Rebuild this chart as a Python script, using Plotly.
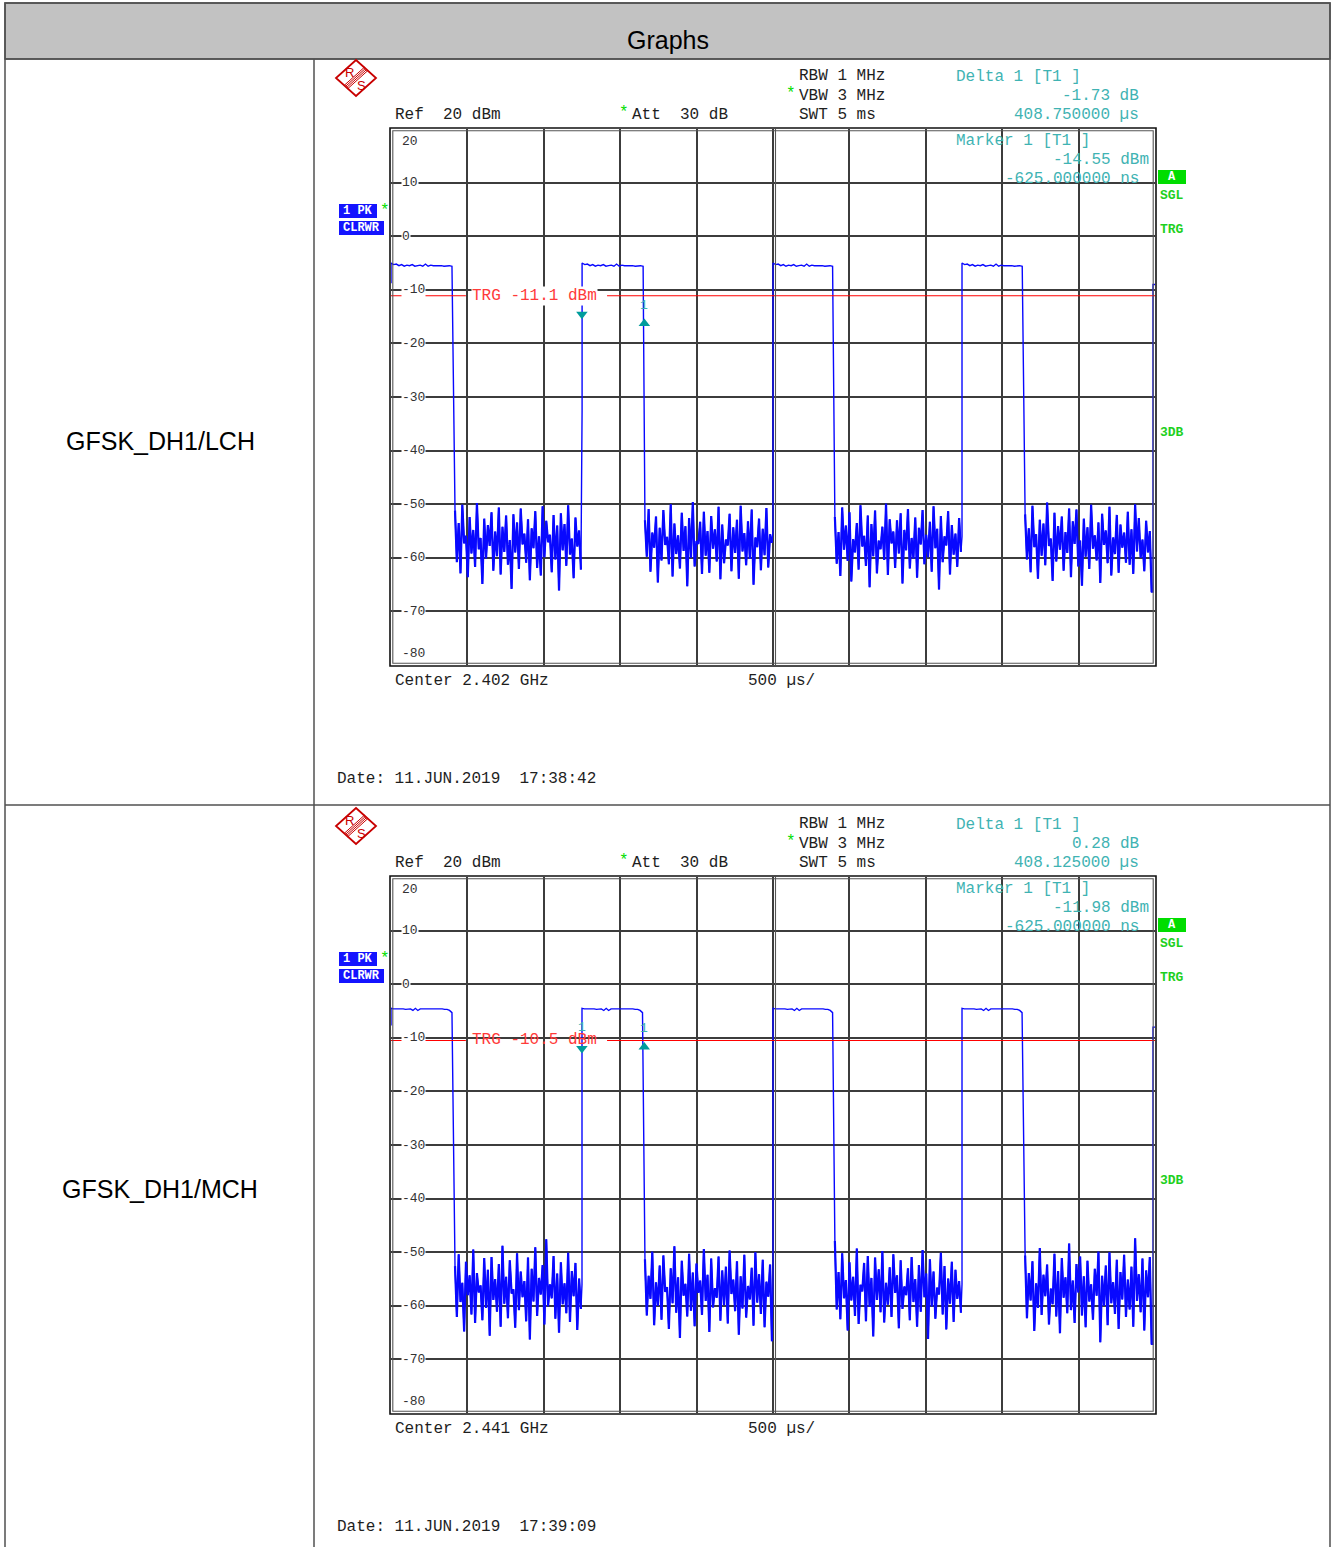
import numpy as np
import plotly.graph_objects as go

W, H = 1335, 1547

# ---------------- data ----------------
HEADER_TEXT = "Graphs"
ROW_LABELS = ["GFSK_DH1/LCH", "GFSK_DH1/MCH"]
CENTER_TEXT = ["Center 2.402 GHz", "Center 2.441 GHz"]
SPAN_TEXT = "500 µs/"
DATE_TEXT = ["Date: 11.JUN.2019  17:38:42", "Date: 11.JUN.2019  17:39:09"]
DELTA_DB_TEXT = ["-1.73 dB", "0.28 dB"]
DELTA_T_TEXT = ["408.750000 µs", "408.125000 µs"]
MARKER_DBM_TEXT = ["-14.55 dBm", "-11.98 dBm"]
MARKER_T_TEXT = ["-625.000000 ns", "-625.000000 ns"]
TRG_DBM = [-11.1, -10.5]
TRG_TEXT = ["TRG -11.1 dBm", "TRG -10.5 dBm"]
Y_TICKS = [20, 10, 0, -10, -20, -30, -40, -50, -60, -70, -80]
Y_TICK_TEXT = ["20", "10", "0", "-10", "-20", "-30", "-40", "-50", "-60", "-70", "-80"]
SWEEP_MS = 5.0
DIV_MS = 0.5

MARKER1_MS = [1.249375, 1.249375]
MARKER1_DBM = [-14.55, -11.98]
DELTA_MS = [0.40875, 0.408125]
DELTA_DB = [-1.73, 0.28]

# plot 1 (LCH) trace
LCH_RISE_MS = [0.000, 1.2506, 2.500, 3.737]
LCH_RISE_FROM_DBM = [-8.8, -32.5, -55.0, -56.0]
LCH_FALL_MS = [0.399, 1.650, 2.890, 4.131]
LCH_FLOOR_MS = [0.419, 1.662, 2.905, 4.150]
LCH_FLOOR_END_MS = [1.243, 2.493, 3.730, 4.978]
LCH_END_MS = [4.987, 5.0]
LCH_END_DBM = -9.0
LCH_TOP_DBM = [-5.0, -5.3, -5.2, -5.5, -5.3, -5.6, -5.4, -5.5, -5.3, -5.6, -5.5, -5.4,
               -5.6, -5.2, -5.6, -5.4, -5.5, -5.5, -5.4, -5.5, -5.6, -5.5, -5.5, -5.6]
LCH_NOISE_DBM = [
    -51.2, -60.8, -53.5, -62.9, -50.1, -57.3, -55.9, -63.6, -52.4, -59.2, -54.8, -61.7, -49.8, -58.4,
    -56.3, -64.9, -52.7, -60.1, -53.9, -57.8, -51.5, -62.4, -55.1, -59.7, -50.6, -63.1, -54.2, -58.9,
    -52.1, -61.3, -56.7, -65.8, -51.9, -59.0, -53.4, -62.1, -50.8, -57.5, -55.5, -60.9, -52.8, -64.2,
    -54.5, -58.2, -51.3, -61.9, -56.0, -63.3, -50.4, -59.9, -53.1, -57.1, -55.7, -62.7, -52.0, -60.3,
    -54.0, -66.1, -51.7, -58.6, -53.7, -61.5, -50.2, -59.4, -56.4, -63.8, -52.5, -57.9, -54.9, -62.2,
    -53.0, -59.8, -50.9, -62.6, -55.3, -58.1, -52.3, -64.6, -54.4, -60.5, -51.1, -57.6, -56.1, -61.2,
    -50.0, -63.5, -53.6, -59.3, -55.8, -62.0, -51.6, -58.7, -54.1, -65.3, -52.6, -60.0, -49.6, -61.6,
    -56.9, -57.4, -53.3, -63.0, -51.4, -59.6, -55.0, -62.8, -52.2, -58.3, -54.7, -60.7, -50.5, -64.0,
    -53.8, -61.0, -56.6, -57.7, -51.8, -62.5, -54.3, -59.1, -52.9, -63.9, -50.3, -58.8, -55.4, -61.4,
    -53.2, -60.2, -51.0, -65.0, -56.2, -58.0, -52.7, -62.3, -54.6, -59.5, -50.7, -61.8, -55.6, -57.2,
    -52.4, -61.1, -55.2, -63.4, -50.6, -58.5, -54.0, -60.6, -51.5, -64.4, -56.5, -59.0, -53.5, -62.2,
    -50.2, -57.9, -55.9, -61.5, -52.1, -65.5, -53.7, -59.7, -51.2, -62.9, -56.8, -58.4, -54.2, -60.4,
    -49.9, -63.2, -52.8, -57.3, -55.1, -61.9, -53.0, -59.2, -51.7, -64.8, -54.8, -58.6, -50.9, -62.0,
    -56.3, -60.1, -52.5, -63.7, -54.4, -57.5, -51.1, -61.2, -55.7, -59.9, -53.3, -62.6, -50.4, -58.2,
    -54.6, -65.9, -52.2, -60.8, -56.0, -57.7, -51.3, -63.1, -53.9, -59.4, -55.5, -61.7, -52.6, -58.9,
    -51.9, -60.3, -54.5, -62.7, -50.3, -58.0, -55.6, -63.9, -52.9, -59.6, -53.6, -61.4, -49.7, -57.8,
    -56.4, -64.3, -51.6, -60.7, -54.1, -58.5, -52.3, -62.4, -55.2, -59.1, -50.8, -63.6, -53.2, -57.4,
    -51.0, -61.6, -56.8, -65.2, -52.7, -59.8, -54.3, -62.1, -50.1, -58.3, -55.8, -60.5, -53.4, -64.7,
    -51.8, -57.6, -54.9, -61.0, -50.5, -63.3, -56.2, -59.3, -52.0, -62.8, -53.8, -58.1, -55.3, -60.9,
    -51.4, -61.3, -54.7, -63.0, -50.0, -58.8, -52.6, -60.0, -56.6, -62.5, -53.1, -59.0, -55.0, -66.4,
]

# plot 2 (MCH) trace
MCH_RISE_MS = [0.000, 1.250, 2.500, 3.737]
MCH_RISE_FROM_DBM = [-7.7, -56.0, -55.0, -56.0]
MCH_FALL_MS = [0.399, 1.646, 2.890, 4.130]
MCH_FLOOR_MS = [0.419, 1.662, 2.905, 4.150]
MCH_FLOOR_END_MS = [1.243, 2.493, 3.730, 4.978]
MCH_END_MS = [4.987, 5.0]
MCH_END_DBM = -8.0
MCH_TOP_DBM = [-4.5, -4.6, -4.6, -4.5, -4.6, -4.6, -4.7, -4.6, -4.6, -4.9, -4.5, -4.9, -4.6,
               -4.6, -4.6, -4.5, -4.6, -4.6, -4.6, -4.6, -4.6, -4.6, -4.7, -4.7, -4.9, -5.3]
MCH_NOISE_DBM = [
    -52.6, -62.1, -50.4, -59.3, -55.7, -64.8, -51.8, -58.0, -54.3, -61.6, -49.5, -63.2, -53.9, -57.5,
    -56.2, -62.7, -51.1, -60.4, -53.3, -65.6, -50.9, -58.9, -55.0, -61.1, -52.2, -63.9, -48.8, -59.6,
    -54.6, -62.3, -51.5, -57.7, -56.9, -64.1, -50.2, -60.8, -53.6, -58.4, -55.4, -62.9, -51.0, -66.3,
    -53.1, -59.2, -49.1, -61.9, -54.8, -57.9, -52.4, -63.5, -47.6, -60.1, -56.0, -58.6, -50.7, -62.4,
    -54.0, -65.0, -51.9, -59.7, -55.8, -61.4, -50.1, -63.0, -53.5, -58.2, -52.0, -64.5, -54.9, -60.6,
    -51.3, -61.8, -54.4, -58.7, -49.9, -63.6, -55.6, -60.0, -52.5, -62.6, -50.6, -57.4, -56.5, -64.3,
    -53.0, -59.5, -48.9, -61.3, -54.7, -66.0, -51.6, -58.1, -55.9, -62.0, -50.3, -60.9, -53.8, -63.8,
    -52.1, -57.6, -55.3, -61.7, -49.4, -59.1, -54.2, -64.9, -51.2, -60.3, -56.7, -58.5, -50.8, -62.8,
    -53.4, -59.9, -52.7, -63.3, -49.7, -57.8, -55.1, -61.0, -51.7, -65.4, -54.5, -60.5, -50.5, -62.2,
    -56.3, -58.8, -52.9, -63.7, -50.0, -59.4, -54.1, -61.5, -51.4, -64.0, -55.5, -58.3, -52.3, -66.6,
    -47.9, -60.7, -53.7, -62.5, -50.2, -58.6, -55.2, -64.6, -51.9, -59.0, -54.6, -61.9, -49.3, -63.4,
    -56.1, -57.3, -52.0, -62.9, -50.7, -60.2, -54.8, -65.7, -51.0, -58.9, -53.2, -61.2, -49.8, -63.1,
    -55.7, -59.8, -52.8, -62.1, -50.4, -57.6, -54.3, -64.2, -51.5, -60.6, -56.4, -58.0, -53.0, -62.7,
    -50.9, -59.3, -55.0, -63.9, -52.4, -61.1, -49.6, -58.4, -54.0, -66.2, -51.3, -60.1, -53.6, -62.4,
    -56.6, -57.9, -50.1, -61.6, -52.6, -64.4, -54.9, -59.6, -51.8, -63.0, -53.3, -58.7, -55.4, -61.3,
    -50.6, -62.3, -53.9, -59.0, -51.7, -64.7, -55.8, -60.4, -49.2, -61.7, -54.2, -58.2, -52.3, -63.5,
    -56.8, -59.7, -50.3, -62.0, -53.5, -65.1, -51.1, -58.5, -54.7, -61.4, -48.4, -60.8, -55.3, -63.2,
    -52.2, -57.5, -50.8, -61.8, -54.5, -64.0, -51.6, -59.2, -56.0, -62.6, -53.1, -58.1, -49.9, -66.8,
    -54.4, -60.0, -52.5, -63.6, -50.0, -59.5, -55.6, -61.5, -51.4, -64.3, -53.7, -58.8, -50.5, -62.1,
    -55.1, -60.7, -52.7, -63.9, -47.4, -59.1, -54.1, -61.2, -51.2, -64.6, -53.4, -58.4, -50.9, -67.2,
]

# ---------------- helpers ----------------
def px(x):
    return x / W


def py(y):
    return 1 - y / H


def build_trace(rise_ms, rise_from, fall_ms, floor_ms, floor_end_ms, top, noise, end_ms, end_dbm):
    """Returns full trace (t, v) plus the noise-floor portions only (nt, nv) separated by gaps."""
    t, v, nt, nv = [], [], [], []
    n = len(noise) // len(rise_ms)
    for i in range(len(rise_ms)):
        t += [rise_ms[i], rise_ms[i]]
        v += [rise_from[i], top[0]]
        t += list(np.linspace(rise_ms[i], fall_ms[i], len(top)))
        v += list(top)
        seg_t = list(np.linspace(floor_ms[i], floor_end_ms[i], n))
        seg_v = list(noise[i * n:(i + 1) * n])
        t += seg_t
        v += seg_v
        nt += seg_t + [None]
        nv += seg_v + [None]
    t += [end_ms[0], end_ms[0], end_ms[1]]
    v += [v[-1], end_dbm, end_dbm]
    return t, v, nt, nv


MONO = "Liberation Mono"
SANS = "Liberation Sans"
TEAL = "#3fb3b3"
GREEN = "#00dd00"
BLUE = "#1414ff"
RED = "#ff0000"
GRID = "#3c3c3c"
TXT = "#1e1e1e"
BORDER = "#505050"
TRACE = "#0808ff"

fig = go.Figure()
shapes = []
ann = []


def text(x, y, s, size=16, color=TXT, family=MONO, xanchor="left", **kw):
    ann.append(dict(x=px(x), y=py(y), xref="paper", yref="paper", text=s, showarrow=False,
                    xanchor=xanchor, yanchor="middle",
                    font=dict(family=family, size=size, color=color), **kw))


def line(x0, y0, x1, y1, color=BORDER, width=1.5):
    shapes.append(dict(type="line", xref="paper", yref="paper", x0=px(x0), y0=py(y0),
                       x1=px(x1), y1=py(y1), line=dict(color=color, width=width)))


def rect(x0, y0, x1, y1, color=BORDER, width=1.5, fill=None, layer="above"):
    d = dict(type="rect", xref="paper", yref="paper", x0=px(x0), y0=py(y0), x1=px(x1), y1=py(y1),
             line=dict(color=color, width=width), layer=layer)
    if fill:
        d["fillcolor"] = fill
    shapes.append(d)


# ---------------- table ----------------
rect(5, 3, 1330, 59, fill="#c2c2c2", layer="below")
rect(5, 3, 1330, 1560)
line(5, 59, 1330, 59)
line(5, 805, 1330, 805)
line(314, 59, 314, 1560)
text(668, 40, HEADER_TEXT, size=25, family=SANS, color="#000000", xanchor="center")
text(160, 441, ROW_LABELS[0], size=25, family=SANS, color="#000000", xanchor="center")
text(160, 1189, ROW_LABELS[1], size=25, family=SANS, color="#000000", xanchor="center")

traces = [
    build_trace(LCH_RISE_MS, LCH_RISE_FROM_DBM, LCH_FALL_MS, LCH_FLOOR_MS, LCH_FLOOR_END_MS,
                LCH_TOP_DBM, LCH_NOISE_DBM, LCH_END_MS, LCH_END_DBM),
    build_trace(MCH_RISE_MS, MCH_RISE_FROM_DBM, MCH_FALL_MS, MCH_FLOOR_MS, MCH_FLOOR_END_MS,
                MCH_TOP_DBM, MCH_NOISE_DBM, MCH_END_MS, MCH_END_DBM),
]

layout_axes = {}
for k in range(2):
    dy = 748 * k
    top, bot = 129 + dy, 665 + dy
    xa = "x" if k == 0 else "x2"
    ya = "y" if k == 0 else "y2"
    layout_axes["xaxis" if k == 0 else "xaxis2"] = dict(
        domain=[px(391), px(1155)], range=[0, SWEEP_MS], anchor=ya, showticklabels=False,
        ticks="", tick0=0, dtick=DIV_MS, showgrid=True, gridcolor=GRID, gridwidth=1.5,
        zeroline=False, showline=False, fixedrange=True)
    layout_axes["yaxis" if k == 0 else "yaxis2"] = dict(
        domain=[py(bot), py(top)], range=[-80, 20], anchor=xa, showticklabels=False,
        ticks="", tick0=0, dtick=10, showgrid=True, gridcolor=GRID, gridwidth=1.5,
        zeroline=False, showline=False, fixedrange=True)

    t, v, nt, nv = traces[k]
    fig.add_trace(go.Scatter(x=t, y=v, mode="lines", xaxis=xa, yaxis=ya,
                             line=dict(color=TRACE, width=1.4), hoverinfo="skip",
                             showlegend=False))
    # the noise floor is drawn a little heavier so it reads as a dense band
    fig.add_trace(go.Scatter(x=nt, y=nv, mode="lines", xaxis=xa, yaxis=ya, connectgaps=False,
                             line=dict(color=TRACE, width=2.2), hoverinfo="skip",
                             showlegend=False))

    # markers (triangles)
    m1x, m1y = MARKER1_MS[k], MARKER1_DBM[k]
    d1x, d1y = MARKER1_MS[k] + DELTA_MS[k], MARKER1_DBM[k] + DELTA_DB[k]
    fig.add_trace(go.Scatter(x=[m1x], y=[m1y], mode="markers", xaxis=xa, yaxis=ya,
                             marker=dict(symbol="triangle-down", size=10, color="#009c9c",
                                         line=dict(width=0)),
                             hoverinfo="skip", showlegend=False))
    fig.add_trace(go.Scatter(x=[d1x], y=[d1y], mode="markers", xaxis=xa, yaxis=ya,
                             marker=dict(symbol="triangle-up", size=10, color="#009c9c",
                                         line=dict(width=0)),
                             hoverinfo="skip", showlegend=False))

    # trigger line (broken where the label sits)
    for x0, x1 in [(0, 0.49), (1.414, SWEEP_MS)]:
        shapes.append(dict(type="line", xref=xa, yref=ya, x0=x0, x1=x1, y0=TRG_DBM[k], y1=TRG_DBM[k],
                           line=dict(color=RED, width=1.1), layer="above"))

    # frame (double) and centre double line
    rect(390, top - 1, 1156, bot + 1, color="#111111", width=1.6)
    rect(392.8, top + 1.8, 1153.2, bot - 1.8, color="#555555", width=1.1)
    line(775.5, top, 775.5, bot, color="#555555", width=1.1)

    # y tick labels inside the grid
    for val, lab in zip(Y_TICKS, Y_TICK_TEXT):
        ys = -12 if val == 20 else (12 if val == -80 else 0)
        ann.append(dict(x=px(401), y=val, xref="paper", yref=ya, text=lab, showarrow=False,
                        xanchor="left", yanchor="middle", yshift=ys, bgcolor="white", borderpad=0,
                        font=dict(family=MONO, size=13, color="#333333")))

    # marker number labels
    if k == 1:
        ann.append(dict(x=m1x, y=m1y, xref=xa, yref=ya, text="1", showarrow=False, yshift=21,
                        font=dict(family=MONO, size=13, color=TEAL)))
    ann.append(dict(x=d1x, y=d1y, xref=xa, yref=ya, text="1", showarrow=False, yshift=18,
                    font=dict(family=MONO, size=13, color=TEAL)))

    # trigger label
    ann.append(dict(x=px(471), y=TRG_DBM[k], xref="paper", yref=ya, text=TRG_TEXT[k], showarrow=False,
                    xanchor="left", yanchor="middle",
                    bgcolor="white" if k == 0 else None, borderpad=0,
                    font=dict(family=MONO, size=16, color="#ff3a3a")))

    # header texts
    text(797, 76 + dy, "RBW 1 MHz")
    text(784, 94 + dy, "*", size=16, color=GREEN)
    text(797, 96 + dy, "VBW 3 MHz")
    text(797, 115 + dy, "SWT 5 ms")
    text(393, 115 + dy, "Ref  20 dBm")
    text(617, 113 + dy, "*", size=16, color=GREEN)
    text(630, 115 + dy, "Att  30 dB")
    text(954, 77 + dy, "Delta 1 [T1 ]", color=TEAL)
    text(1141, 96 + dy, DELTA_DB_TEXT[k], color=TEAL, xanchor="right")
    text(1141, 115 + dy, DELTA_T_TEXT[k], color=TEAL, xanchor="right")
    text(954, 141 + dy, "Marker 1 [T1 ]", color=TEAL)
    text(1151, 160 + dy, MARKER_DBM_TEXT[k], color=TEAL, xanchor="right")
    text(1141, 179 + dy, MARKER_T_TEXT[k], color=TEAL, xanchor="right")

    # right side status labels
    rect(1158, 170 + dy, 1186, 184 + dy, color=GREEN, width=0, fill=GREEN)
    text(1172, 177 + dy, "<b>A</b>", size=12, color="white", xanchor="center")
    text(1172, 195 + dy, "<b>SGL</b>", size=13, color="#1ed01e", xanchor="center")
    text(1172, 229 + dy, "<b>TRG</b>", size=13, color="#1ed01e", xanchor="center")
    text(1172, 432 + dy, "<b>3DB</b>", size=13, color="#1ed01e", xanchor="center")

    # left trace info boxes
    rect(339, 204 + dy, 377, 218 + dy, color=BLUE, width=0, fill=BLUE)
    text(358, 211 + dy, "<b>1 PK</b>", size=12, color="white", xanchor="center")
    text(378, 211 + dy, "*", size=16, color=GREEN)
    rect(339, 221 + dy, 384, 235 + dy, color=BLUE, width=0, fill=BLUE)
    text(361.5, 228 + dy, "<b>CLRWR</b>", size=12, color="white", xanchor="center")

    # bottom texts
    text(393, 681 + dy, CENTER_TEXT[k])
    text(746, 681 + dy, SPAN_TEXT)
    text(335, 779 + dy, DATE_TEXT[k])

    # R&S logo
    cx, cy = 356, 78 + dy
    red = "#c80000"
    shapes.append(dict(type="path", xref="paper", yref="paper",
                       path=f"M {px(cx)},{py(cy - 18)} L {px(cx + 20)},{py(cy)} L {px(cx)},{py(cy + 18)} "
                            f"L {px(cx - 20)},{py(cy)} Z",
                       line=dict(color=red, width=1.8)))
    for off in (-2.4, -0.8, 0.8, 2.4):
        line(cx + 10 + off * 0.67, cy - 9 + off * 0.74, cx - 10 + off * 0.67, cy + 9 + off * 0.74,
             color=red, width=1.0)
    text(350, 72 + dy, "R", size=13, color=red, family=SANS, xanchor="center")
    text(361, 85 + dy, "S", size=13, color=red, family=SANS, xanchor="center")

fig.update_layout(
    width=W, height=H, margin=dict(l=0, r=0, t=0, b=0),
    paper_bgcolor="white", plot_bgcolor="white",
    shapes=shapes, annotations=ann, showlegend=False,
    **layout_axes,
)

fig.write_html("out.html", config={"displayModeBar": False},
               post_script="document.body.style.margin='0px';document.body.style.overflow='hidden';")
